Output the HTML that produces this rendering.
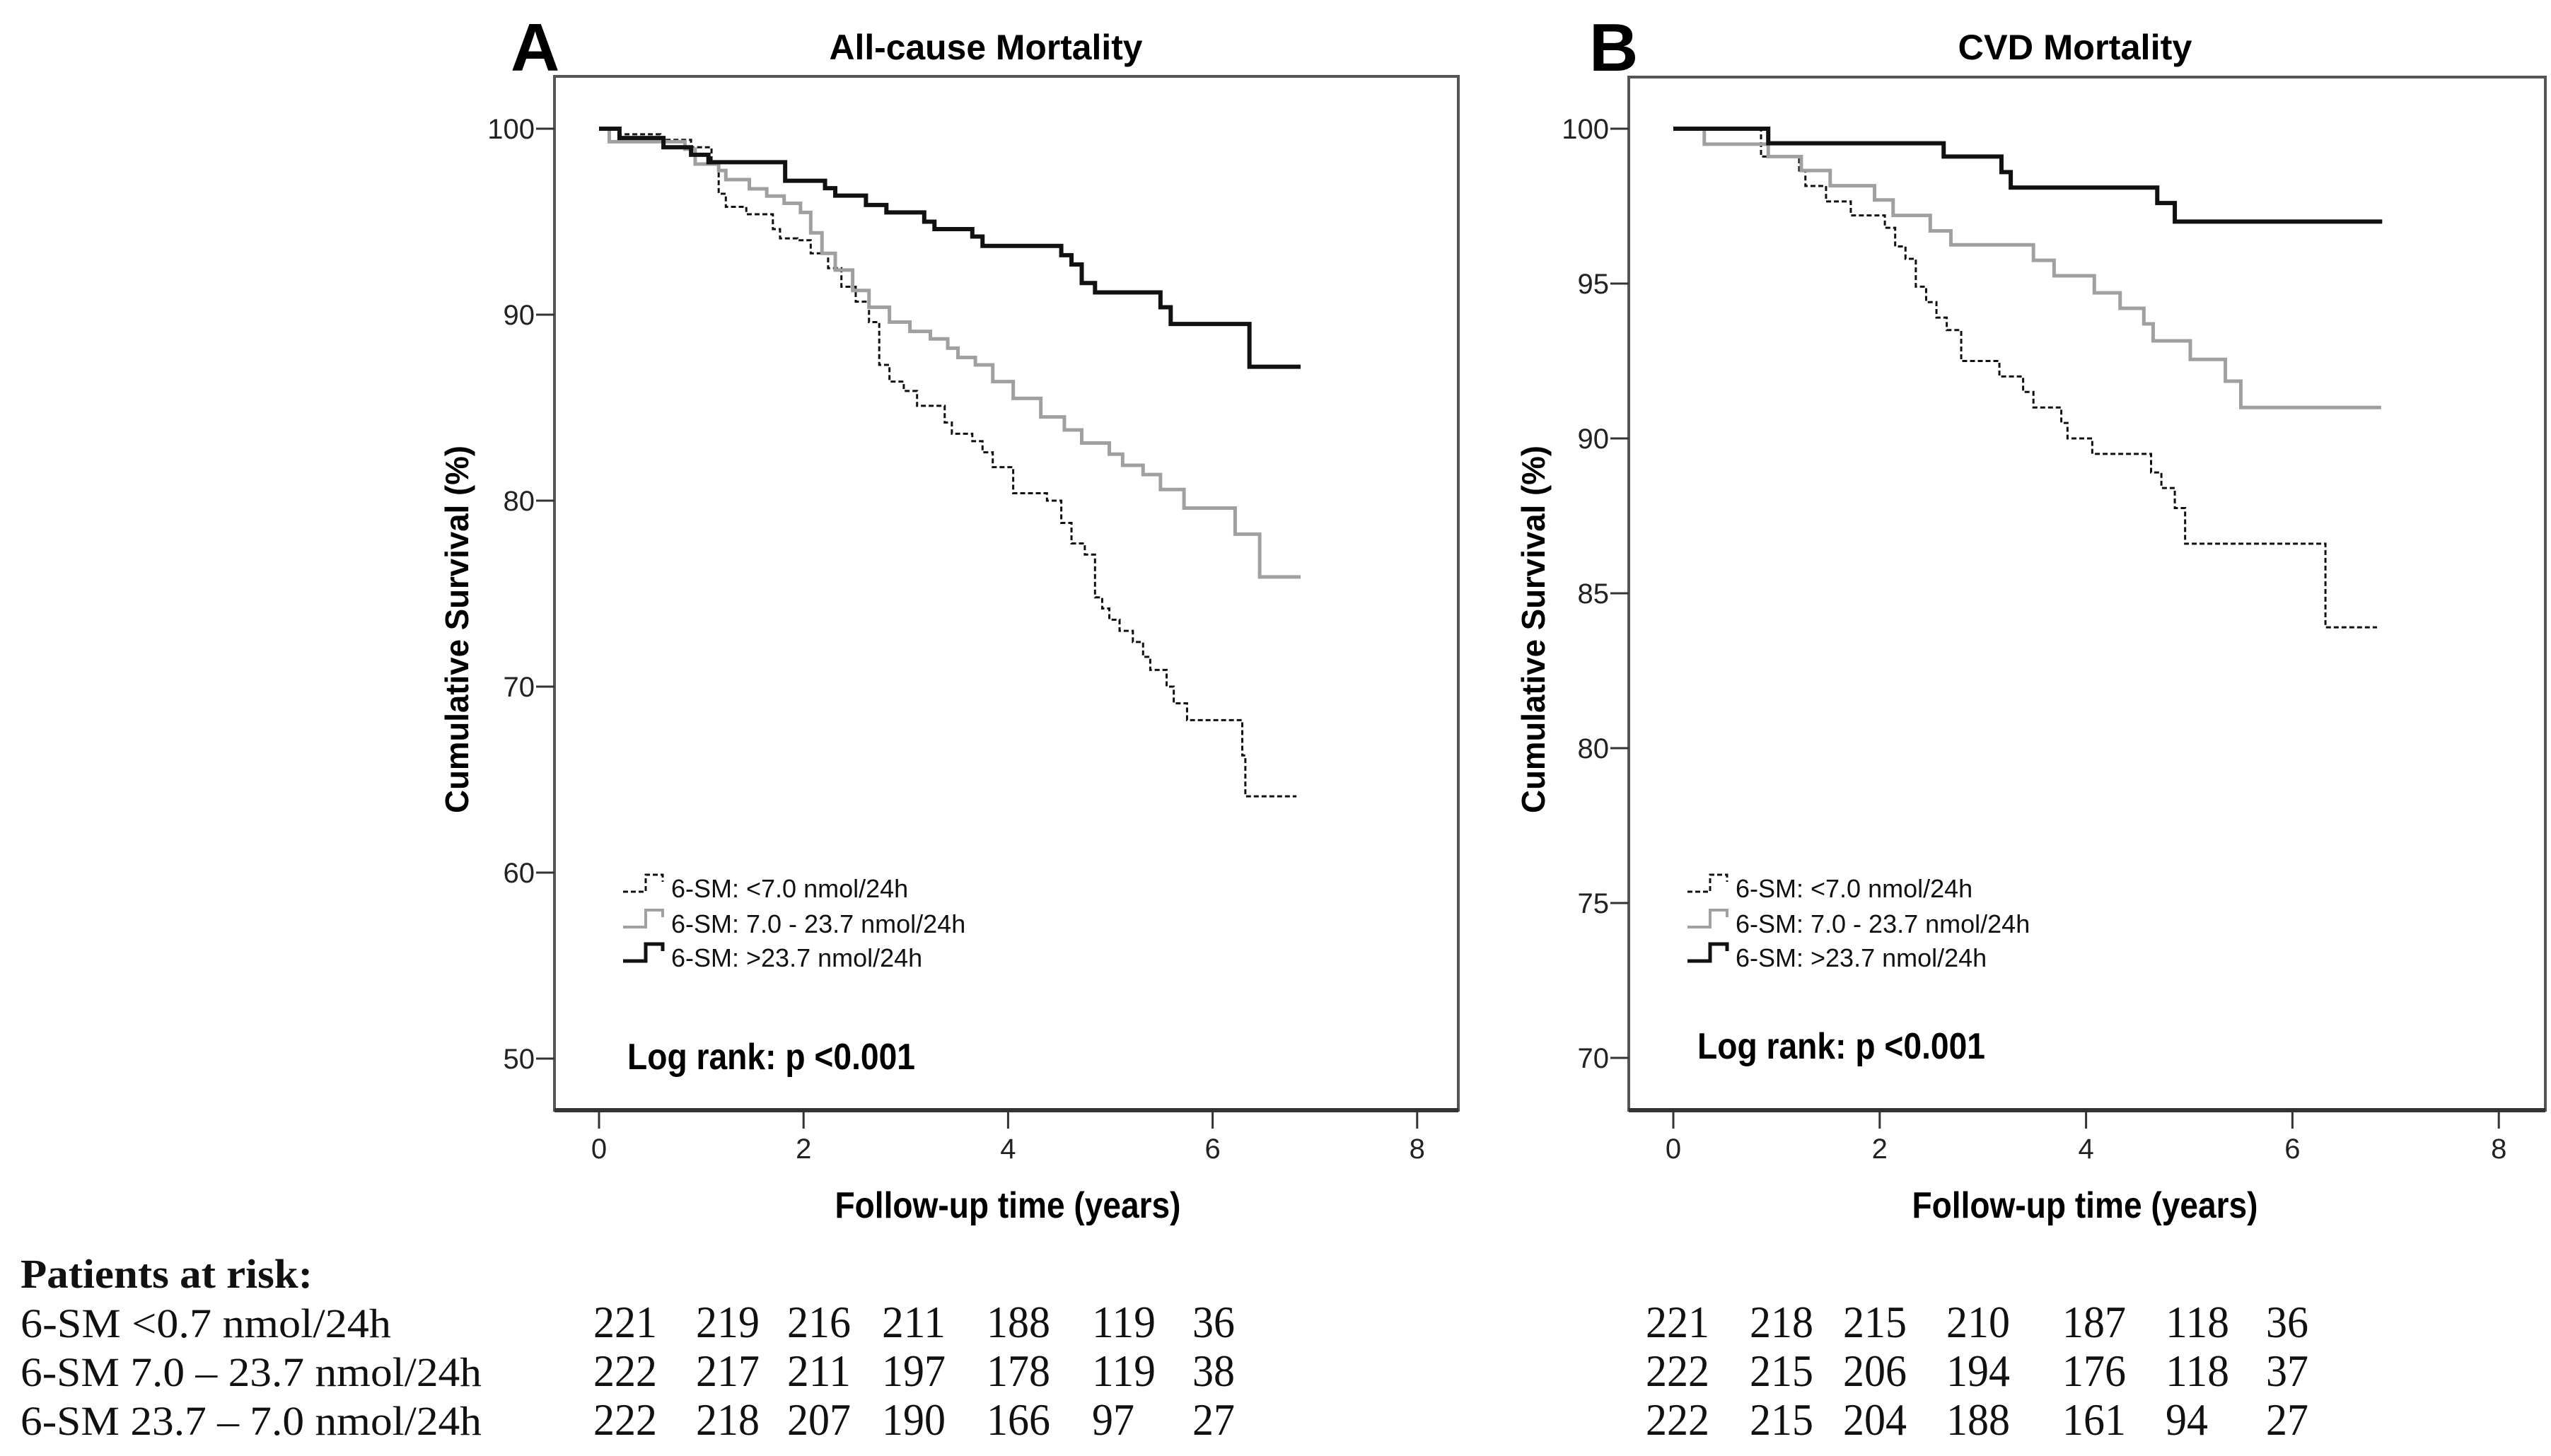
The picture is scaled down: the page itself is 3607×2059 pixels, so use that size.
<!DOCTYPE html>
<html><head><meta charset="utf-8"><style>
html,body{margin:0;padding:0;background:#fff;}
svg{display:block;}
.tick{font-family:"Liberation Sans",sans-serif;font-size:40px;fill:#222;}
.ttl{font-family:"Liberation Sans",sans-serif;font-weight:bold;}
.leg{font-family:"Liberation Sans",sans-serif;font-size:36px;fill:#111;}
.tbl{font-family:"Liberation Serif",serif;font-size:58px;fill:#111;}
.num{font-family:"Liberation Serif",serif;font-size:64px;fill:#111;}
</style></head><body>
<svg id="fig" width="3607" height="2059" viewBox="0 0 3607 2059" xmlns="http://www.w3.org/2000/svg">
<rect x="0" y="0" width="3607" height="2059" fill="#fff"/>
<g id="layer"></g>
<text class="tbl" x="29" y="1821" font-weight="bold" textLength="413" lengthAdjust="spacingAndGlyphs">Patients at risk:</text>
<text class="tbl" x="29" y="1891" textLength="524" lengthAdjust="spacingAndGlyphs">6-SM &lt;0.7 nmol/24h</text>
<text class="tbl" x="29" y="1960" textLength="652" lengthAdjust="spacingAndGlyphs">6-SM 7.0 – 23.7 nmol/24h</text>
<text class="tbl" x="29" y="2029" textLength="652" lengthAdjust="spacingAndGlyphs">6-SM 23.7 – 7.0 nmol/24h</text>
</svg>
<script>
// Panel A data (years, %)
const aLowT = [0,0.2,0.6,0.9,1.1,1.17,1.24,1.44,1.70,1.77,1.94,2.07,2.24,2.37,2.51,2.64,2.74,2.84,2.98,3.11,3.38,3.45,3.65,3.75,3.85,4.05,4.38,4.52,4.62,4.75,4.85,4.92,4.99,5.09,5.22,5.32,5.39,5.55,5.62,5.75,6.29,6.32];
const aLowV = [100,99.7,99.4,99.0,98.2,96.5,95.8,95.4,94.6,94.1,94.0,93.3,92.5,91.5,90.7,89.6,87.3,86.4,85.9,85.1,84.2,83.6,83.2,82.6,81.8,80.4,80.0,78.8,77.7,77.1,74.8,74.2,73.6,73.0,72.4,71.6,70.9,70.0,69.1,68.2,66.3,64.1];
const aLowEnd = 6.82;
const aMidT = [0,0.10,0.84,0.94,1.17,1.24,1.47,1.64,1.81,1.97,2.07,2.18,2.31,2.48,2.64,2.84,3.04,3.24,3.41,3.51,3.68,3.85,4.05,4.32,4.55,4.72,4.99,5.12,5.32,5.49,5.72,6.22,6.46];
const aMidV = [100,99.3,98.9,98.1,97.75,97.26,96.77,96.38,95.99,95.5,94.4,93.3,92.4,91.3,90.4,89.6,89.1,88.7,88.2,87.7,87.3,86.4,85.5,84.5,83.8,83.1,82.5,81.9,81.4,80.6,79.6,78.2,75.9];
const aMidEnd = 6.86;
const aHighT = [0,0.2,0.63,0.9,1.07,1.82,2.21,2.31,2.61,2.81,3.18,3.28,3.65,3.75,4.52,4.62,4.72,4.85,5.49,5.59,6.36];
const aHighV = [100,99.5,99.0,98.6,98.2,97.2,96.8,96.4,95.9,95.5,95.0,94.6,94.2,93.7,93.2,92.7,91.7,91.2,90.4,89.5,87.2];
const aHighEnd = 6.86;
// Panel B data
const bLowT = [0,0.85,1.22,1.28,1.48,1.72,2.05,2.15,2.25,2.35,2.45,2.55,2.65,2.79,3.16,3.39,3.49,3.76,3.82,4.06,4.63,4.73,4.86,4.96,6.32];
const bLowV = [100,99.1,98.65,98.15,97.65,97.2,96.8,96.2,95.8,94.9,94.4,93.9,93.5,92.5,92.0,91.5,91.0,90.5,90.0,89.5,88.9,88.4,87.75,86.6,83.9];
const bLowEnd = 6.82;
const bMidT = [0,0.30,0.92,1.24,1.52,1.95,2.13,2.49,2.69,3.49,3.69,4.08,4.33,4.56,4.65,5.01,5.35,5.50];
const bMidV = [100,99.5,99.1,98.65,98.16,97.7,97.2,96.7,96.25,95.75,95.25,94.7,94.2,93.7,93.15,92.55,91.85,91.0];
const bMidEnd = 6.86;
const bHighT = [0,0.92,2.62,3.18,3.27,4.69,4.86];
const bHighV = [100,99.53,99.1,98.6,98.1,97.6,97.0];
const bHighEnd = 6.87;
// Axis ticks
const xTicks = [0,2,4,6,8];
const aYTicks = [50,60,70,80,90,100];
const bYTicks = [70,75,80,85,90,95,100];
// Risk table
const riskA = [[221,219,216,211,188,119,36],[222,217,211,197,178,119,38],[222,218,207,190,166,97,27]];
const riskB = [[221,218,215,210,187,118,36],[222,215,206,194,176,118,37],[222,215,204,188,161,94,27]];
const legendLabels = ["6-SM: <7.0 nmol/24h","6-SM: 7.0 - 23.7 nmol/24h","6-SM: >23.7 nmol/24h"];

const NS = "http://www.w3.org/2000/svg";
const layer = document.getElementById('layer');
function mk(tag, attrs, parent){
  const e = document.createElementNS(NS, tag);
  for (const k in attrs) e.setAttribute(k, attrs[k]);
  (parent||layer).appendChild(e);
  return e;
}
const styles = [
  {stroke:"#111", w:3, dash:"7,4"},
  {stroke:"#a0a0a0", w:5, dash:""},
  {stroke:"#111", w:6, dash:""}
];
function panel(cfg){
  const g = mk('g', {});
  
  
  const xs = t => cfg.x0 + (t) * cfg.pxYear;
  const ys = v => cfg.y100 + (100 - v) * cfg.pxUnit;
  const fr = mk('rect', {x:cfg.L, y:cfg.T, width:cfg.R-cfg.L, height:cfg.B-cfg.T, fill:"none", stroke:"#555", "stroke-width":4}, g);
  
  
  const xa = mk('line', {x1:cfg.L, x2:cfg.R, y1:cfg.B, y2:cfg.B, stroke:"#333", "stroke-width":6}, g);
  
  
  cfg.yTicks.forEach(v => {
    const y = ys(v);
    const tl = mk('line', {x1:cfg.L-26, x2:cfg.L, y1:y, y2:y, stroke:"#333", "stroke-width":3}, g);
    
    
    const tx = mk('text', {x:cfg.L-28, y:y+14, "text-anchor":"end", class:"tick"}, g);
    
    
    tx.textContent = v;
  });
  xTicks.forEach(t => {
    const x = xs(t);
    const tl = mk('line', {x1:x, x2:x, y1:cfg.B, y2:cfg.B+26, stroke:"#333", "stroke-width":3}, g);
    
    
    const tx = mk('text', {x:x, y:cfg.B+68, "text-anchor":"middle", class:"tick"}, g);
    
    
    tx.textContent = t;
  });
  cfg.series.forEach((s, i) => {
    let d = "M" + xs(s.t[0]) + "," + ys(s.v[0]);
    for (let k = 1; k < s.t.length; k++) {
      d += " H" + xs(s.t[k]) + " V" + ys(s.v[k]);
    }
    d += " H" + xs(s.end);
    const st = styles[i];
    const p = mk('path', {d:d, fill:"none", stroke:st.stroke, "stroke-width":st.w, "stroke-dasharray":st.dash, "stroke-linejoin":"miter"}, g);
    
    
  });
  const ly = [1255, 1305, 1353];
  legendLabels.forEach((lab, i) => {
    const st = styles[i];
    const x0 = cfg.legX, y = ly[i] + 6;
    const ic = mk('path', {d:`M${x0},${y} H${x0+32} V${y-24} H${x0+56} V${y-14}`, fill:"none", stroke:st.stroke, "stroke-width":Math.max(3, st.w-1), "stroke-dasharray":st.dash}, g);
    
    
    const tx = mk('text', {x:x0+68, y:y+8, class:"leg"}, g);
    
    
    tx.textContent = lab;
  });
  const lr = mk('text', {x:cfg.logX, y:cfg.logY, class:"ttl", "font-size":52, textLength:407, lengthAdjust:"spacingAndGlyphs"}, g);
  
  
  lr.textContent = "Log rank: p <0.001";
  const pl = mk('text', {x:cfg.letterX, y:100, class:"ttl", "font-size":96}, g);
  
  
  pl.textContent = cfg.letter;
  const tt = mk('text', {x:cfg.titleX, y:84, "text-anchor":"middle", class:"ttl", "font-size":50, textLength:cfg.titleW, lengthAdjust:"spacingAndGlyphs"}, g);
  
  
  tt.textContent = cfg.title;
  const xt = mk('text', {x:cfg.xTitleX, y:1722, "text-anchor":"middle", class:"ttl", "font-size":52, textLength:489, lengthAdjust:"spacingAndGlyphs"}, g);
  
  
  xt.textContent = "Follow-up time (years)";
  const yt = mk('text', {x:0, y:0, "text-anchor":"middle", class:"ttl", "font-size":46, transform:`translate(${cfg.yTitleX},890) rotate(-90)`, textLength:520, lengthAdjust:"spacingAndGlyphs"}, g);
  
  
  yt.textContent = "Cumulative Survival (%)";
}
panel({name:"panel-a-all-cause", L:784, R:2062, T:108, B:1570, x0:847, pxYear:144.6, y100:182, pxUnit:26.3,
  yTicks:aYTicks, legX:881, logX:887, logY:1512, letter:"A", letterX:722, title:"All-cause Mortality", titleX:1394, titleW:443,
  xTitleX:1425, yTitleX:662,
  series:[{name:"curve-low",t:aLowT,v:aLowV,end:aLowEnd},{name:"curve-mid",t:aMidT,v:aMidV,end:aMidEnd},{name:"curve-high",t:aHighT,v:aHighV,end:aHighEnd}]});
panel({name:"panel-b-cvd", L:2303, R:3599, T:109, B:1570, x0:2366, pxYear:145.9, y100:182, pxUnit:43.8,
  yTicks:bYTicks, legX:2386, logX:2400, logY:1497, letter:"B", letterX:2247, title:"CVD Mortality", titleX:2934, titleW:331,
  xTitleX:2948, yTitleX:2184,
  series:[{name:"curve-low",t:bLowT,v:bLowV,end:bLowEnd},{name:"curve-mid",t:bMidT,v:bMidV,end:bMidEnd},{name:"curve-high",t:bHighT,v:bHighV,end:bHighEnd}]});
const svg = document.getElementById('fig');
const colA = [839,984,1113,1247,1395,1544,1686];
const colB = [2327,2474,2606,2752,2916,3062,3204];
const rowY = [1891,1960,2029];
function riskTable(data, cols, name){
  data.forEach((row, r) => row.forEach((n, c) => {
    const s = String(n);
    const t = mk('text', {x:cols[c], y:rowY[r], class:"num", textLength:s.length*30, lengthAdjust:"spacingAndGlyphs"}, svg);
    
    
    t.textContent = s;
  }));
}
riskTable(riskA, colA, 'risk-count-a');
riskTable(riskB, colB, 'risk-count-b');
</script>
</body></html>
